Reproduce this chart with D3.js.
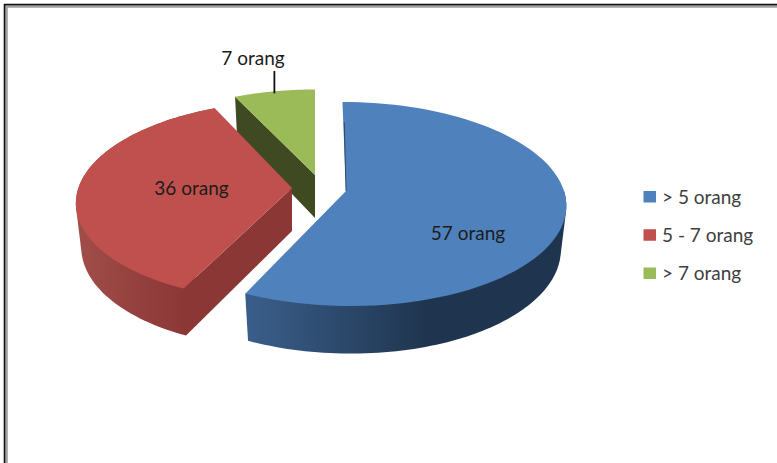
<!DOCTYPE html>
<html>
<head>
<meta charset="utf-8">
<style>html,body{margin:0;padding:0;background:#fff}svg{display:block}</style>
<script src="https://cdn.jsdelivr.net/npm/d3@7"></script>
</head>
<body>
<div id="chart"></div>
<script>
const categories = ["> 5 orang", "5 - 7 orang", "> 7 orang"];
const values = [57, 36, 7];
const dataLabels = ["57 orang", "36 orang", "7 orang"];
const topColors = ["#4f81bd", "#c0504d", "#9bbb59"];
const wallColors = ["#2a4160", "#8a3735", "#3f4a22"];
const sideStops = [["#3a5e8a", "#1f344e"], ["#a14d4a", "#8a3735"], ["#3f4a22", "#3f4a22"]];

// layout, kept apart from the data
const W = 777, H = 463;
const centers = [[346, 191], [292, 188], [315, 175]];
const scales = [1, 0.98, 0.96];
const shears = [0.04, -0.055, 0];
const RX = 218, RY = 100.4, K = 0.127, DEPTH = 43, BX = 0.975, BY = 1.04;
const labelPos = [[468, 240], [191.5, 195], [253, 65]];
const fontFamily = "Lato, 'Open Sans', sans-serif";

const svg = d3.select("#chart").append("svg").attr("width", W).attr("height", H);
svg.append("rect").attr("width", W).attr("height", H).attr("fill", "#fff");

const defs = svg.append("defs");
const pie = d3.pie().sort(null).value(d => d);
const arcs = pie(values);

// perspective projection of the unit disc on the slice's own centre
function project(i, a, r, bottom) {
  const u = r * Math.sin(a), v = -r * Math.cos(a), w = 1 - K * v;
  const s = scales[i], sx = bottom ? BX : 1, sy = bottom ? BY : 1;
  const dy = s * sy * RY * v / w;
  return [
    centers[i][0] + s * sx * RX * u / w + shears[i] * dy,
    centers[i][1] + (bottom ? DEPTH : 0) + dy
  ];
}
const line = d3.line();
function ring(i, a0, a1, bottom) {
  return d3.range(0, 81).map(t => project(i, a0 + (a1 - a0) * t / 80, 1, bottom));
}
function sideGradient(i, x1, x2) {
  const id = "side" + i;
  const gr = defs.append("linearGradient").attr("id", id).attr("gradientUnits", "userSpaceOnUse")
    .attr("x1", x1).attr("x2", x2).attr("y1", 0).attr("y2", 0);
  gr.append("stop").attr("offset", 0).attr("stop-color", sideStops[i][0]);
  gr.append("stop").attr("offset", 1).attr("stop-color", sideStops[i][1]);
  return `url(#${id})`;
}
function rim(g, i, a0, a1, fill) {
  const hull = d3.polygonHull(ring(i, a0, a1, false).concat(ring(i, a0, a1, true)));
  g.append("path").attr("fill", fill).attr("d", line(hull) + "Z");
}

// far slices first, near slices over them
[2, 1, 0].forEach(i => {
  const d = arcs[i], g = svg.append("g");
  const top = ring(i, d.startAngle, d.endAngle, false);
  const bot = ring(i, d.startAngle, d.endAngle, true);
  const tipT = project(i, 0, 0, false), tipB = project(i, 0, 0, true);

  if (i === 2) {           // the green slice shows its right-hand cut wall
    g.append("path").attr("fill", wallColors[i])
      .attr("d", line([top[0], tipT, tipB, bot[0]]) + "Z");
  }
  if (i === 1) {           // the red slice shows its rim and right-hand cut wall
    rim(g, i, d.startAngle, d.endAngle, sideGradient(i, 76, 187));
    g.append("path").attr("fill", wallColors[i])
      .attr("d", line([top[0], tipT, tipB, bot[0]]) + "Z");
  }
  if (i === 0) {           // only the front half of the blue rim is visible
    rim(g, i, Math.PI / 2, d.endAngle, sideGradient(i, 248, 430));
  }
  g.append("path").attr("fill", topColors[i])
    .attr("d", line([tipT].concat(top)) + "Z");
  if (i === 0) {           // edge-on sliver of the blue slice's first cut
    const q = project(i, 0, 0.75, false);
    g.append("line").attr("x1", tipT[0]).attr("y1", tipT[1]).attr("x2", q[0] + 1).attr("y2", q[1])
      .attr("stroke", "#2a4160").attr("stroke-width", 0.9);
  }
});

// leader line of the small slice
const g2 = arcs[2];
const lead = project(2, (g2.startAngle + g2.endAngle) / 2, 1, false);
svg.append("line").attr("x1", lead[0]).attr("x2", lead[0]).attr("y1", lead[1] + 2).attr("y2", 71)
  .attr("stroke", "#111").attr("stroke-width", 1.8);

// data labels
svg.selectAll("text.lab").data(dataLabels).join("text").attr("class", "lab")
  .attr("x", (d, i) => labelPos[i][0]).attr("y", (d, i) => labelPos[i][1])
  .attr("text-anchor", "middle").attr("font-family", fontFamily).attr("font-size", 19)
  .attr("fill", "#1c1c1c").text(d => d);

// legend
const legendY = d3.scalePoint().domain(categories).range([197, 273.5]);
const color = d3.scaleOrdinal().domain(categories).range(topColors);
const lg = svg.selectAll("g.leg").data(categories).join("g").attr("class", "leg")
  .attr("transform", d => `translate(643.5,${legendY(d)})`);
lg.append("rect").attr("x", 0).attr("y", -6).attr("width", 12.5).attr("height", 11.5).attr("fill", d => color(d));
lg.append("text").attr("x", 18.5).attr("y", 6.5).attr("font-family", fontFamily).attr("font-size", 19)
  .attr("fill", "#404040").text(d => d);

// picture frame
const frame = svg.append("g").attr("fill", "none");
frame.append("path").attr("d", `M6.8 463V6.8H${W}`).attr("stroke", "#a0a0a0").attr("stroke-width", 2);
frame.append("path").attr("d", `M4.6 463V4.6H${W}`).attr("stroke", "#111").attr("stroke-width", 1.8);
</script>
</body>
</html>
